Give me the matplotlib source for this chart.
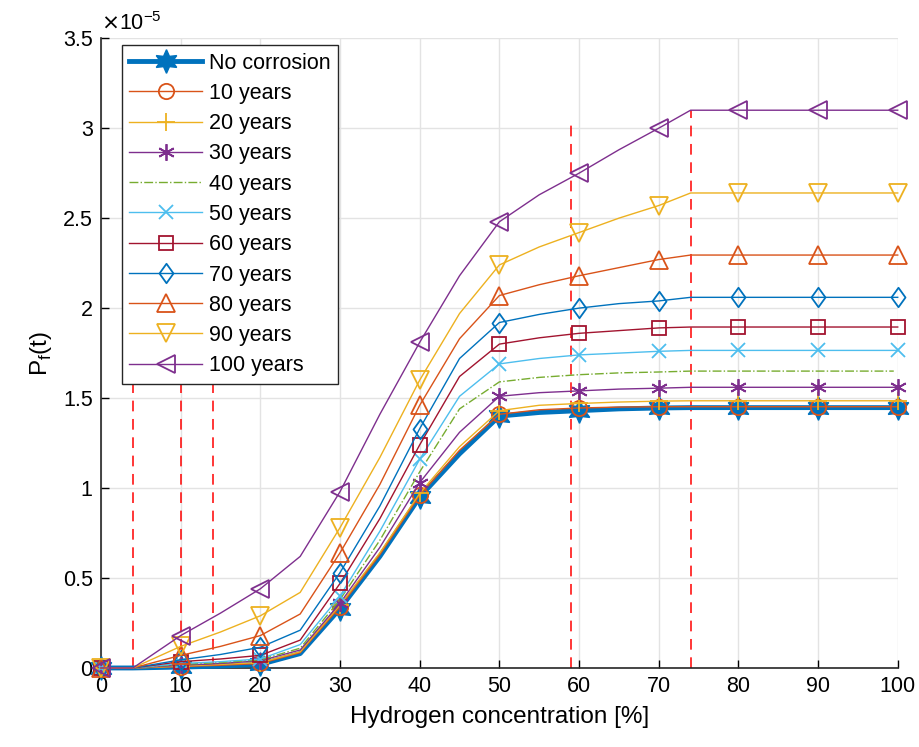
import matplotlib.pyplot as plt
import numpy as np
from matplotlib.path import Path

plt.rcParams['font.family'] = ['Liberation Sans', 'DejaVu Sans']

# Hydrogen concentration [%] (markers only at multiples of 10)
h2 = [0, 4, 10, 15, 20, 25, 30, 35, 40, 45, 50, 55, 60, 65, 70, 74, 80, 90, 100]
mark_idx = [0, 2, 4, 6, 8, 10, 12, 14, 16, 17, 18]

# Pf(t) in units of 1e-5
no_corr = [0, 0, 0.005, 0.01, 0.02, 0.08, 0.33, 0.62, 0.95, 1.19, 1.40, 1.42, 1.43, 1.44, 1.445, 1.447, 1.447, 1.447, 1.447]
y10 = [0, 0, 0.008, 0.015, 0.025, 0.085, 0.34, 0.63, 0.96, 1.21, 1.41, 1.435, 1.445, 1.45, 1.452, 1.452, 1.452, 1.452, 1.452]
y20 = [0, 0, 0.01, 0.02, 0.03, 0.09, 0.35, 0.64, 0.97, 1.23, 1.43, 1.46, 1.47, 1.478, 1.483, 1.485, 1.485, 1.485, 1.485]
y30 = [0, 0, 0.015, 0.025, 0.04, 0.10, 0.36, 0.67, 1.03, 1.31, 1.51, 1.53, 1.54, 1.55, 1.555, 1.56, 1.56, 1.56, 1.56]
y40 = [0, 0, 0.02, 0.03, 0.045, 0.11, 0.38, 0.71, 1.09, 1.44, 1.59, 1.615, 1.63, 1.64, 1.645, 1.65, 1.65, 1.65, 1.65]
y50 = [0, 0, 0.025, 0.035, 0.05, 0.13, 0.40, 0.76, 1.16, 1.51, 1.69, 1.72, 1.74, 1.75, 1.76, 1.765, 1.765, 1.765, 1.765]
y60 = [0, 0, 0.035, 0.05, 0.07, 0.155, 0.47, 0.83, 1.24, 1.62, 1.80, 1.835, 1.86, 1.875, 1.89, 1.895, 1.895, 1.895, 1.895]
y70 = [0, 0, 0.045, 0.075, 0.115, 0.21, 0.53, 0.90, 1.33, 1.72, 1.92, 1.965, 2.00, 2.025, 2.04, 2.06, 2.06, 2.06, 2.06]
y80 = [0, 0, 0.07, 0.12, 0.18, 0.30, 0.64, 1.02, 1.46, 1.83, 2.07, 2.13, 2.18, 2.225, 2.27, 2.295, 2.295, 2.295, 2.295]
y90 = [0, 0, 0.12, 0.20, 0.29, 0.42, 0.78, 1.17, 1.60, 1.97, 2.24, 2.34, 2.42, 2.50, 2.57, 2.64, 2.64, 2.64, 2.64]
y100 = [0, 0, 0.18, 0.305, 0.44, 0.62, 0.98, 1.41, 1.81, 2.18, 2.48, 2.63, 2.75, 2.88, 3.00, 3.10, 3.10, 3.10, 3.10]

labels = ['No corrosion', '10 years', '20 years', '30 years', '40 years', '50 years',
          '60 years', '70 years', '80 years', '90 years', '100 years']

# vertical red dashed markers
vlines_x = [4, 10, 14, 59, 74]
vlines_top = [3.05, 3.05, 3.05, 3.04, 3.1]

c1 = '#0072BD'
c2 = '#D95319'
c3 = '#EDB120'
c4 = '#7E2F8E'
c5 = '#77AC30'
c6 = '#4DBEEE'
c7 = '#A2142F'

asterisk = (6, 2, 0)
hexagram = (6, 1, 0)
diamond = Path([(0, 1), (0.72, 0), (0, -1), (-0.72, 0), (0, 1)],
               [Path.MOVETO, Path.LINETO, Path.LINETO, Path.LINETO, Path.CLOSEPOLY])

series = [no_corr, y10, y20, y30, y40, y50, y60, y70, y80, y90, y100]
styles = [
    dict(color=c1, lw=3.5, marker=hexagram, ms=17, mfc=c1, mec=c1),
    dict(color=c2, lw=1, marker='o', ms=11, mfc='none', mew=1.3),
    dict(color=c3, lw=1, marker='+', ms=13, mew=1.3),
    dict(color=c4, lw=1, marker=asterisk, ms=12, mew=1.3),
    dict(color=c5, lw=1, ls='-.'),
    dict(color=c6, lw=1, marker='x', ms=10, mew=1.3),
    dict(color=c7, lw=1, marker='s', ms=10, mfc='none', mew=1.3),
    dict(color=c1, lw=1, marker=diamond, ms=14, mfc='none', mew=1.3),
    dict(color=c2, lw=1, marker='^', ms=13, mfc='none', mew=1.3),
    dict(color=c3, lw=1, marker='v', ms=13, mfc='none', mew=1.3),
    dict(color=c4, lw=1, marker='<', ms=13, mfc='none', mew=1.3),
]

fig = plt.figure(figsize=(9.2, 7.47), dpi=100)
ax = fig.add_axes([0.1098, 0.1058, 0.866, 0.843])

for vx, vt in zip(vlines_x, vlines_top):
    ax.plot([vx, vx], [0, vt], color='red', lw=1.1, ls=(0, (7, 5)), zorder=2)

for ys, st, lab in zip(series, styles, labels):
    if 'marker' in st:
        ax.plot(h2, ys, label=lab, markevery=mark_idx, clip_on=False, zorder=3, **st)
    else:
        x_end = h2[:-1] + [99.5]
        ax.plot(x_end, ys, label=lab, clip_on=False, zorder=3, **st)

ax.set_xlim(0, 100)
ax.set_ylim(0, 3.5)
ax.set_xticks(np.arange(0, 101, 10))
ax.set_yticks(np.arange(0, 3.51, 0.5))
ax.set_yticklabels(['0', '0.5', '1', '1.5', '2', '2.5', '3', '3.5'])
ax.tick_params(direction='in', length=6, width=1, labelsize=15.5, pad=6)
ax.grid(True, color='#e3e3e3', lw=1)
ax.set_axisbelow(True)
for s in ['top', 'right']:
    ax.spines[s].set_visible(False)
for s in ['left', 'bottom']:
    ax.spines[s].set_linewidth(1.2)
    ax.spines[s].set_color('#262626')

ax.set_xlabel('Hydrogen concentration [%]', fontsize=17.5, labelpad=6)
ax.set_ylabel(r'P$_\mathregular{f}$(t)', fontsize=17.5, labelpad=6)
ax.text(0.0, 1.005, r'$\times\mathregular{10^{-5}}$', transform=ax.transAxes,
        fontsize=15.5, va='bottom', ha='left')

leg = ax.legend(loc='upper left', bbox_to_anchor=(0.026, 0.989), fontsize=15.5,
                handlelength=3.4, labelspacing=0.43, fancybox=False, framealpha=1,
                edgecolor='#262626', borderpad=0.35, handletextpad=0.3,
                borderaxespad=0)
leg.get_frame().set_linewidth(1)
leg.set_zorder(10)

fig.savefig('out.png', dpi=100)
